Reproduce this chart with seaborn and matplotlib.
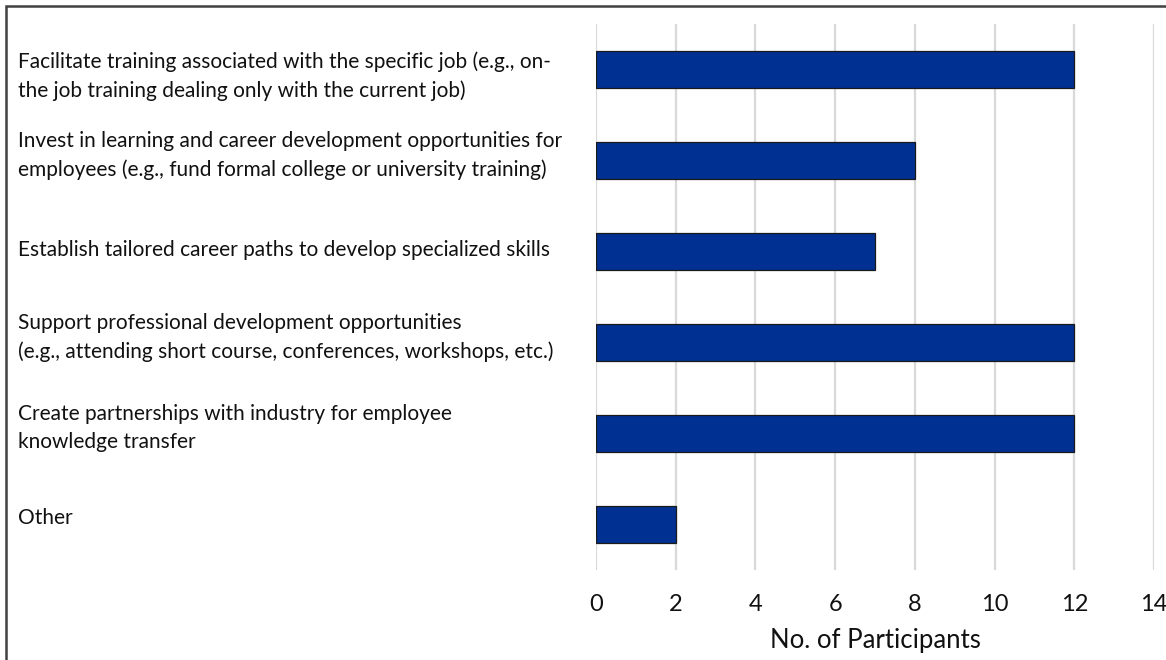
import matplotlib
matplotlib.use("Agg")
import matplotlib.pyplot as plt
import matplotlib.transforms as mtransforms
from matplotlib.patches import Rectangle
import seaborn as sns
import pandas as pd

categories = [
    "Facilitate training associated with the specific job (e.g., on-\nthe job training dealing only with the current job)",
    "Invest in learning and career development opportunities for\nemployees (e.g., fund formal college or university training)",
    "Establish tailored career paths to develop specialized skills",
    "Support professional development opportunities\n(e.g., attending short course, conferences, workshops, etc.)",
    "Create partnerships with industry for employee\nknowledge transfer",
    "Other",
]
participants = [12, 8, 7, 12, 12, 2]
x_ticks = [0, 2, 4, 6, 8, 10, 12, 14]
x_label = "No. of Participants"

# vertical nudges of the category texts (pixels, positive = down)
label_nudge_px = [7, -5, -1, -5, -5, -7]

sns.set_theme(style="white")
plt.rcParams['font.family'] = ['Lato', 'DejaVu Sans']

W, H, DPI = 1166, 660, 100
fig = plt.figure(figsize=(W / DPI, H / DPI), dpi=DPI)
ax = fig.add_axes([596 / W, 1 - 570 / H, (1154 - 596) / W, (570 - 24) / H])

df = pd.DataFrame({"cat": [str(i) for i in range(len(categories))],
                   "val": participants})
sns.barplot(data=df, y="cat", x="val", orient="h", ax=ax, width=0.405,
            color="#003092", edgecolor="#1a1a1a", linewidth=0.9, saturation=1)

ax.set_xlim(0, 14)
ax.set_xticks(x_ticks)
ax.set_xticklabels([str(t) for t in x_ticks], fontsize=17, color="#111111")
ax.tick_params(axis='x', length=0, pad=17.5)
ax.set_yticks([])
ax.set_ylabel("")
ax.set_xlabel(x_label, fontsize=18.5, color="#111111", labelpad=9)
for s in ax.spines.values():
    s.set_visible(False)
ax.grid(axis='x', color="#d9d9d9", linewidth=1.6)
ax.set_axisbelow(True)

blend = mtransforms.blended_transform_factory(fig.transFigure, ax.transData)
for i, (lab, nud) in enumerate(zip(categories, label_nudge_px)):
    tr = mtransforms.offset_copy(blend, fig=fig, x=0, y=-nud * 72 / DPI, units='points')
    ax.text(18 / W, i, lab, transform=tr, ha='left', va='center',
            fontsize=15, color="#111111", linespacing=1.5, multialignment='left')

# outer frame (left and top edges visible)
fig.patches.append(Rectangle((6 / W, -0.2), 2.0, 1.2 - 6 / H, transform=fig.transFigure,
                             fill=False, edgecolor="#404040", linewidth=1.8))

fig.savefig("out.png", dpi=DPI)
